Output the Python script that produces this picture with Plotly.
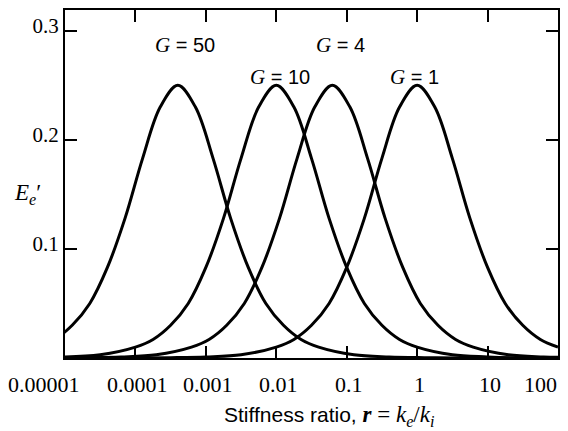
import plotly.graph_objects as go

# Stiffness ratio r and E_e', one pair of lists per curve
r_G1 = [1e-5, 3.16e-5, 1e-4, 3.16e-4, 1e-3, 3.16e-3, 0.01, 0.0178, 0.0316, 0.0562,
        0.1, 0.178, 0.316, 0.562, 1, 1.78, 3.16, 5.62, 10, 17.8, 31.6, 56.2, 100]
E_G1 = [0.000, 0.000, 0.000, 0.0003, 0.001, 0.003, 0.010, 0.017, 0.030, 0.050,
        0.083, 0.128, 0.183, 0.230, 0.250, 0.230, 0.183, 0.128, 0.083, 0.050, 0.030, 0.017, 0.010]

r_G4 = [6.25e-6, 1.976e-5, 6.25e-5, 1.976e-4, 6.25e-4, 1.111e-3, 1.976e-3, 3.515e-3, 6.25e-3,
        0.01111, 0.01976, 0.03515, 0.0625, 0.1111, 0.1976, 0.3515, 0.625, 1.111, 1.976,
        3.515, 6.25, 19.76, 62.5, 197.6]
E_G4 = [0.000, 0.0003, 0.001, 0.003, 0.010, 0.017, 0.030, 0.050, 0.083,
        0.128, 0.183, 0.230, 0.250, 0.230, 0.183, 0.128, 0.083, 0.050, 0.030,
        0.017, 0.010, 0.003, 0.001, 0.0003]

r_G10 = [1e-5, 3.16e-5, 1e-4, 1.78e-4, 3.16e-4, 5.62e-4, 1e-3, 1.78e-3, 3.16e-3, 5.62e-3,
         0.01, 0.0178, 0.0316, 0.0562, 0.1, 0.178, 0.316, 0.562, 1, 3.16, 10, 31.6, 100]
E_G10 = [0.001, 0.003, 0.010, 0.017, 0.030, 0.050, 0.083, 0.128, 0.183, 0.230,
         0.250, 0.230, 0.183, 0.128, 0.083, 0.050, 0.030, 0.017, 0.010, 0.003, 0.001, 0.000, 0.000]

r_G50 = [4e-6, 7.11e-6, 1.265e-5, 2.249e-5, 4e-5, 7.11e-5, 1.265e-4, 2.249e-4, 4e-4,
         7.11e-4, 1.265e-3, 2.249e-3, 4e-3, 7.11e-3, 0.01265, 0.02249, 0.04, 0.1265,
         0.4, 1.265, 4, 40, 126.5]
E_G50 = [0.010, 0.017, 0.030, 0.050, 0.083, 0.128, 0.183, 0.230, 0.250,
         0.230, 0.183, 0.128, 0.083, 0.050, 0.030, 0.017, 0.010, 0.003,
         0.001, 0.0003, 0.000, 0.000, 0.000]

curve_labels = ["G = 50", "G = 10", "G = 4", "G = 1"]
x_tickvals = [1e-5, 1e-4, 1e-3, 1e-2, 1e-1, 1, 10, 100]
x_ticktext = ["0.00001", "0.0001", "0.001", "0.01", "0.1", "1", "10", "100"]
y_tickvals = [0.1, 0.2, 0.3]
y_ticktext = ["0.1", "0.2", "0.3"]

SERIF = "Liberation Serif, Times New Roman, serif"
SANS = "Liberation Sans, Arial, sans-serif"

# plot-area geometry in pixels (for placing text)
L, R, T, B = 65, 559, 8, 358
def px_x(px):
    return (px - L) / (R - L)
def px_y(py):
    return (B - py) / (B - T)

fig = go.Figure()
for r, E in [(r_G50, E_G50), (r_G10, E_G10), (r_G4, E_G4), (r_G1, E_G1)]:
    fig.add_trace(go.Scatter(x=r, y=E, mode="lines",
                             line=dict(color="black", width=3, shape="spline", smoothing=1),
                             showlegend=False, hoverinfo="skip"))

# curve labels
label_pos = [(185, 43), (280, 75), (341, 43), (415, 75)]
for lab, (px, py) in zip(curve_labels, label_pos):
    g, rest = lab.split(" ", 1)
    fig.add_annotation(
        x=px_x(px), y=px_y(py), xref="paper", yref="paper",
        text=f'<span style="font-family:{SERIF};font-size:21px"><i>{g}</i></span> {rest}',
        showarrow=False, font=dict(family=SANS, size=20, color="black"),
        xanchor="center", yanchor="middle")

# x tick labels (edge labels pulled inward as in the original)
edge_shift = {0: -21, len(x_tickvals) - 1: -18}
for i, (v, t) in enumerate(zip(x_tickvals, x_ticktext)):
    fig.add_annotation(
        x=[-5, -4, -3, -2, -1, 0, 1, 2][i], y=px_y(385), xref="x", yref="paper",
        text=t, showarrow=False, xshift=edge_shift.get(i, 2),
        font=dict(family=SERIF, size=22, color="black"),
        xanchor="center", yanchor="middle")

# x-axis title
fig.add_annotation(
    x=px_x(330), y=px_y(416), xref="paper", yref="paper",
    text=('Stiffness ratio, <span style="font-family:' + SERIF + ';font-size:23px">'
          '<b><i>r</i></b> = <i>k<sub>e</sub></i>/<i>k<sub>i</sub></i></span>'),
    showarrow=False, font=dict(family=SANS, size=21, color="black"),
    xanchor="center", yanchor="middle")

# y-axis title
fig.add_annotation(
    x=px_x(27), y=px_y(193), xref="paper", yref="paper",
    text="<i>E<sub>e</sub></i>\u2032",
    showarrow=False, font=dict(family=SERIF, size=23, color="black"),
    xanchor="center", yanchor="middle")

fig.update_xaxes(type="log", range=[-5, 2], tickvals=x_tickvals, ticktext=x_ticktext,
                 showticklabels=False,
                 showgrid=False, zeroline=False, showline=True, linecolor="black",
                 linewidth=2, mirror="ticks", ticks="inside", ticklen=12, tickwidth=1.5,
                 tickcolor="black")
fig.update_yaxes(range=[0, 0.319], tickvals=y_tickvals, ticktext=y_ticktext,
                 showgrid=False, zeroline=False, showline=True, linecolor="black",
                 linewidth=2, mirror="ticks", ticks="inside", ticklen=12, tickwidth=1.5,
                 tickcolor="black", tickfont=dict(family=SERIF, size=21, color="black"),
                 ticklabelshift=-5, ticklabelstandoff=0)

fig.update_layout(width=568, height=431, margin=dict(l=65, r=9, t=8, b=73),
                  plot_bgcolor="white", paper_bgcolor="white")

fig.write_html("out.html")
